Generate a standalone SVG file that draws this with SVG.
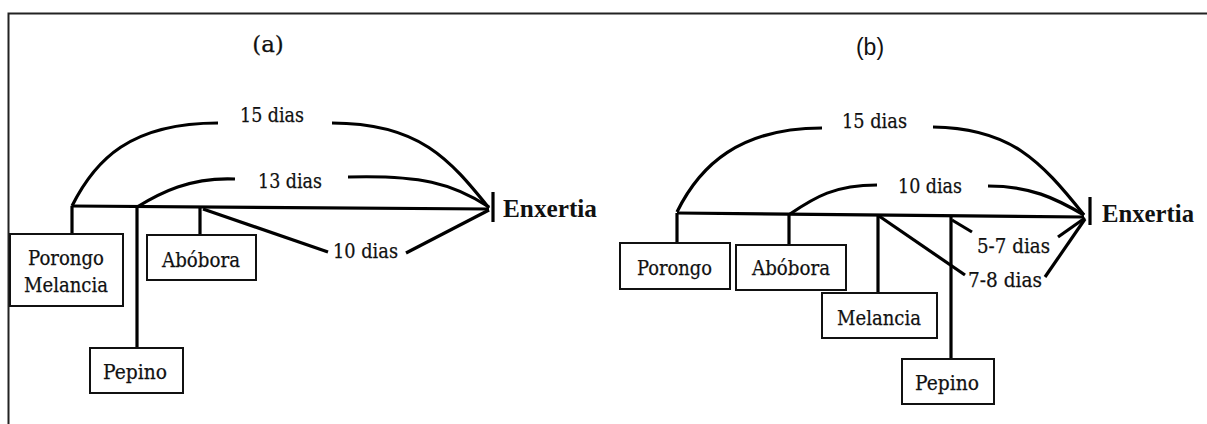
<svg xmlns="http://www.w3.org/2000/svg" width="1207" height="424" viewBox="0 0 1207 424">
<style>
.bg{fill:#fff}
.frame{fill:none;stroke:#222;stroke-width:2}
.ln{fill:none;stroke:#000;stroke-width:3.2;stroke-linecap:butt}
.box{fill:#fff;stroke:#111;stroke-width:2}
.t{font-family:'DejaVu Serif','Liberation Serif',serif;font-size:21px;fill:#111;stroke:#111;stroke-width:0.25}
.c{text-anchor:middle}
.b{font-family:'Liberation Serif','Times New Roman',serif;font-weight:700;font-size:24.5px;fill:#111}
.lab{font-size:23px;text-anchor:middle}
</style>
<rect class="bg" x="0" y="0" width="1207" height="424"/>
<path class="frame" d="M8.5,424 L8.5,13.5 L1207,13.5"/>
<text class="t lab" x="268" y="52">(a)</text>
<text x="870" y="55" style="font-family:'Liberation Sans',Arial,sans-serif;font-size:23px;fill:#111;text-anchor:middle">(b)</text>

<g id="connectors">
  <!-- panel a -->
  <path class="ln" d="M72,206 L489,209"/>
  <path class="ln" d="M493,192 L493,222"/>
  <path class="ln" d="M72,206 L72,234"/>
  <path class="ln" d="M137,206 L137,348"/>
  <path class="ln" d="M200,207 L200,235"/>
  <path class="ln" d="M72,206 C95,160 130,123 218,123"/>
  <path class="ln" d="M332,123 C420,123 450,160 489,208"/>
  <path class="ln" d="M137,207 C160,193 190,177 235,179"/>
  <path class="ln" d="M348,177 C420,175 452,183 489,207"/>
  <path class="ln" d="M203,209 L328,252"/>
  <path class="ln" d="M406,253 L489,210"/>
  <!-- panel b -->
  <path class="ln" d="M677,213 L1084,217"/>
  <path class="ln" d="M1090,197 L1090,225"/>
  <path class="ln" d="M677,213 L677,243"/>
  <path class="ln" d="M789,214 L789,245"/>
  <path class="ln" d="M878,215 L878,293"/>
  <path class="ln" d="M951,216 L951,359"/>
  <path class="ln" d="M677,212 C700,165 740,128 822,128"/>
  <path class="ln" d="M933,127 C1010,128 1040,160 1084,215"/>
  <path class="ln" d="M790,214 C815,197 835,185 877,185"/>
  <path class="ln" d="M988,186 C1030,186 1055,198 1084,215"/>
  <path class="ln" d="M952,220 L972,232"/>
  <path class="ln" d="M1058,237 L1085,218"/>
  <path class="ln" d="M879,216 L965,275"/>
  <path class="ln" d="M1045,277 L1085,219"/>
</g>

<g id="labels">
  <text class="t" x="240" y="122" textLength="64" lengthAdjust="spacingAndGlyphs">15 dias</text>
  <text class="t" x="258" y="188" textLength="64" lengthAdjust="spacingAndGlyphs">13 dias</text>
  <text class="t" x="333" y="258" textLength="65" lengthAdjust="spacingAndGlyphs">10 dias</text>
  <text class="b" x="503" y="217" textLength="94" lengthAdjust="spacingAndGlyphs">Enxertia</text>
  <text class="t" x="842" y="128" textLength="65" lengthAdjust="spacingAndGlyphs">15 dias</text>
  <text class="t" x="898" y="193" textLength="64" lengthAdjust="spacingAndGlyphs">10 dias</text>
  <text class="t" x="977" y="253" textLength="73" lengthAdjust="spacingAndGlyphs">5-7 dias</text>
  <text class="t" x="968" y="287" textLength="74" lengthAdjust="spacingAndGlyphs">7-8 dias</text>
  <text class="b" x="1102" y="222" textLength="92" lengthAdjust="spacingAndGlyphs">Enxertia</text>
</g>

<g id="a-porongo-melancia">
  <rect class="box" x="10" y="234" width="113" height="72"/>
  <text class="t" x="28" y="265" textLength="76" lengthAdjust="spacingAndGlyphs">Porongo</text>
  <text class="t" x="24" y="292" textLength="84" lengthAdjust="spacingAndGlyphs">Melancia</text>
</g>
<g id="a-abobora">
  <rect class="box" x="147" y="235" width="109" height="45"/>
  <text class="t" x="162" y="267" textLength="78" lengthAdjust="spacingAndGlyphs">Abóbora</text>
</g>
<g id="a-pepino">
  <rect class="box" x="90" y="348" width="93" height="45"/>
  <text class="t" x="103" y="379" textLength="64" lengthAdjust="spacingAndGlyphs">Pepino</text>
</g>

<g id="b-porongo">
  <rect class="box" x="620" y="243" width="110" height="46"/>
  <text class="t" x="637" y="275" textLength="75" lengthAdjust="spacingAndGlyphs">Porongo</text>
</g>
<g id="b-abobora">
  <rect class="box" x="736" y="245" width="110" height="45"/>
  <text class="t" x="752" y="275" textLength="78" lengthAdjust="spacingAndGlyphs">Abóbora</text>
</g>
<g id="b-melancia">
  <rect class="box" x="822" y="293" width="115" height="45"/>
  <text class="t" x="837" y="325" textLength="84" lengthAdjust="spacingAndGlyphs">Melancia</text>
</g>
<g id="b-pepino">
  <rect class="box" x="902" y="359" width="92" height="45"/>
  <text class="t" x="915" y="390" textLength="64" lengthAdjust="spacingAndGlyphs">Pepino</text>
</g>
</svg>
